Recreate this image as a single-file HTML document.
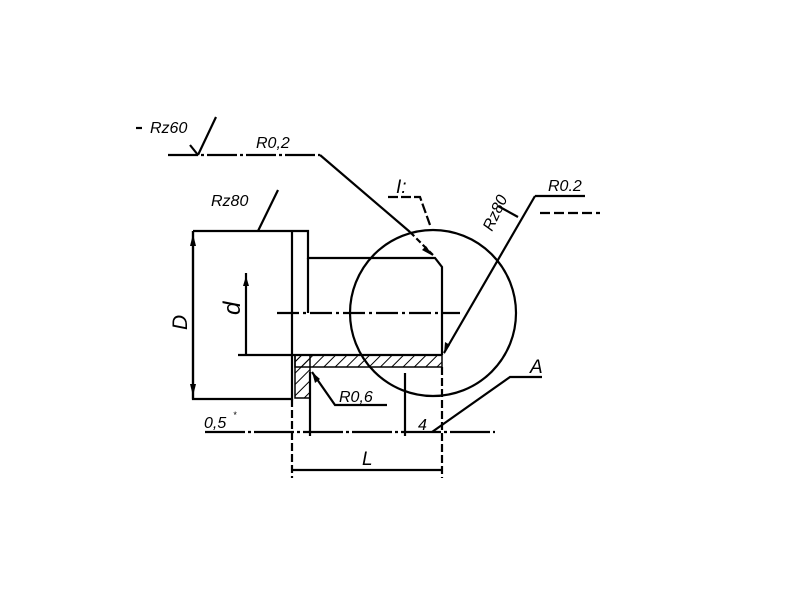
<!DOCTYPE html>
<html><head><style>body{margin:0;background:#fff}svg{display:block}</style></head><body>
<svg width="800" height="600" viewBox="0 0 800 600" xmlns="http://www.w3.org/2000/svg">
<defs><pattern id="h" width="8" height="8" patternUnits="userSpaceOnUse" patternTransform="rotate(45)"><line x1="0" y1="0" x2="0" y2="8" stroke="#000" stroke-width="2"/></pattern></defs>
<g fill="none" stroke="#000" stroke-width="2.2">
<line x1="168" y1="155" x2="320" y2="155" stroke-dasharray="30 3 3 3"/>
<polyline points="320,155 410,232"/><line x1="410" y1="232" x2="433" y2="255" stroke-dasharray="6 3"/>
<polyline points="198,155 190,145"/><line x1="198" y1="155" x2="216" y2="117"/>
<line x1="136" y1="128" x2="142" y2="128"/>
<polyline points="193,231 292,231"/><polyline points="292,231 292,399 193,399 193,231"/>
<polyline points="292,231 308,231 308,258 435,258 442,267 442,355"/>
<line x1="308" y1="258" x2="308" y2="313"/>
<line x1="277" y1="313" x2="460" y2="313" stroke-dasharray="22 4 3 4"/>
<line x1="238" y1="355" x2="442" y2="355"/>
<rect x="295" y="355" width="147" height="12" fill="url(#h)" stroke-width="1.5"/>
<rect x="295" y="355" width="15" height="43" fill="url(#h)" stroke-width="1.5"/>
<line x1="246" y1="273" x2="246" y2="355"/>
<line x1="193" y1="231" x2="193" y2="399"/>
<circle cx="433" cy="313" r="83"/>
<line x1="258" y1="231" x2="278" y2="190"/>
<polyline points="388,197 420,197 430,225" stroke-dasharray="10 3"/>
<line x1="535" y1="196" x2="585" y2="196"/>
<line x1="535" y1="196" x2="444" y2="353"/>
<line x1="540" y1="213" x2="600" y2="213" stroke-dasharray="10 4"/>
<polyline points="498,206 518,217"/>
<polyline points="542,377 510,377 432,432"/>
<line x1="205" y1="432" x2="495" y2="432" stroke-dasharray="40 3 3 3"/>
<line x1="292" y1="399" x2="292" y2="478" stroke-dasharray="8 3"/>
<line x1="442" y1="367" x2="442" y2="478" stroke-dasharray="8 3"/>
<line x1="310" y1="372" x2="310" y2="436"/>
<line x1="405" y1="373" x2="405" y2="436"/>
<line x1="292" y1="470" x2="442" y2="470"/>
<polyline points="312,372 335,405 387,405"/>
</g>
<g fill="#000">
<polygon points="433,256 422,250 426,246"/>
<polygon points="444,354 445,342 450,345"/>
<polygon points="193,234 190,246 196,246"/>
<polygon points="193,396 190,384 196,384"/>
<polygon points="246,276 243,286 249,286"/>
<polygon points="312,372 315,383 320,379"/>
</g>
<g font-family="Liberation Sans, sans-serif" font-style="italic" font-size="16">
<text x="150" y="133">Rz60</text>
<text x="256" y="148">R0,2</text>
<text x="211" y="206">Rz80</text>
<text x="396" y="193" font-size="19">I:</text>
<text x="548" y="191">R0.2</text>
<text transform="translate(492,232) rotate(-65)">Rz80</text>
<text x="530" y="373" font-size="19">A</text>
<text x="339" y="402">R0,6</text>
<text x="204" y="428">0,5</text>
<text x="233" y="418" font-size="9">*</text>
<text x="418" y="430">4</text>
<text x="362" y="465" font-size="19">L</text>
<text transform="translate(187,330) rotate(-90)" font-size="21">D</text>
<text transform="translate(240,315) rotate(-90)" font-size="24">d</text>
</g>
</svg>
</body></html>
